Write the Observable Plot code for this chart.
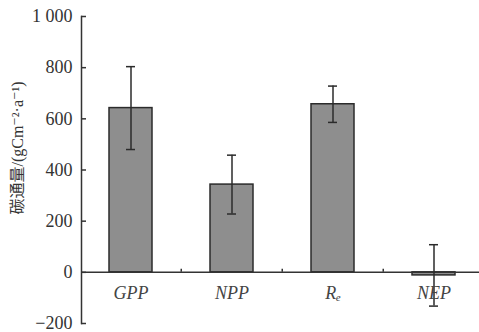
<!DOCTYPE html>
<html>
<head>
<meta charset="utf-8">
<script src="https://cdn.jsdelivr.net/npm/d3@7"></script>
<script src="https://cdn.jsdelivr.net/npm/@observablehq/plot@0.6"></script>
<style>
  html, body { margin: 0; padding: 0; background: #fff; }
  svg { display: block; }
</style>
</head>
<body>
<div id="chart"></div>
<script>
const categories = ["GPP", "NPP", "Re", "NEP"];
const categoryLabels = ["GPP", "NPP", "Rₑ", "NEP"];
const means = [642, 343, 657, -12];
const errors = [162, 115, 71, 120];
const yTicks = [-200, 0, 200, 400, 600, 800, 1000];
const yTickLabels = ["−200", "0", "200", "400", "600", "800", "1 000"];
const yLabel = "碳通量/(gCm⁻²·a⁻¹)";

const data = categories.map((c, i) => ({
  cat: c, label: categoryLabels[i], v: means[i],
  lo: means[i] - errors[i], hi: means[i] + errors[i]
}));

const serif = "'Liberation Serif', 'DejaVu Serif', 'Noto Sans CJK SC', serif";
const ink = "#333";

const chart = Plot.plot({
  width: 479,
  height: 332,
  marginTop: 16,
  marginBottom: 9,
  marginLeft: 81,
  marginRight: 0,
  style: { fontFamily: serif, color: ink, background: "#fff" },
  x: { domain: categories, range: [79, 485], padding: 0, axis: null },
  y: { domain: [-200, 1000], ticks: yTicks, label: null },
  marks: [
    Plot.frame({ anchor: "left", stroke: ink, strokeWidth: 1.5 }),
    Plot.axisY({ ticks: yTicks, tickSize: 0, tickPadding: 9, fontSize: 18,
      tickFormat: d => yTickLabels[yTicks.indexOf(d)], label: null, fill: ink }),
    Plot.axisY({ ticks: yTicks, tickSize: 5, dx: 5, text: null, label: null, stroke: ink, strokeWidth: 1.5 }),
    Plot.barY(data, { x: "cat", y: "v", fill: "#8e8e8e", stroke: "#2b2b2b", strokeWidth: 1.5, insetLeft: 29, insetRight: 29 }),
    Plot.ruleY([0], { stroke: ink, strokeWidth: 1.5 }),
    Plot.ruleX(categories.slice(1), { x: d => d, y1: 0, y2: 12, dx: -50.75, stroke: ink, strokeWidth: 1.5 }),
    Plot.ruleX(data, { x: "cat", y1: "lo", y2: "hi", stroke: "#2b2b2b", strokeWidth: 1.5 }),
    Plot.tickY(data, { x: "cat", y: "hi", stroke: "#2b2b2b", strokeWidth: 1.5, insetLeft: 46, insetRight: 46 }),
    Plot.tickY(data, { x: "cat", y: "lo", stroke: "#2b2b2b", strokeWidth: 1.5, insetLeft: 46, insetRight: 46 }),
    Plot.text(data, { x: "cat", y: 0, text: "label", dy: 21, fontSize: 18, fontStyle: "italic", fill: "#444" }),
    Plot.text([yLabel], { frameAnchor: "left", textAnchor: "middle", text: d => d, rotate: -90, dx: -64, dy: -22, fontSize: 16, fill: ink })
  ]
});
document.getElementById("chart").appendChild(chart);
</script>
</body>
</html>
